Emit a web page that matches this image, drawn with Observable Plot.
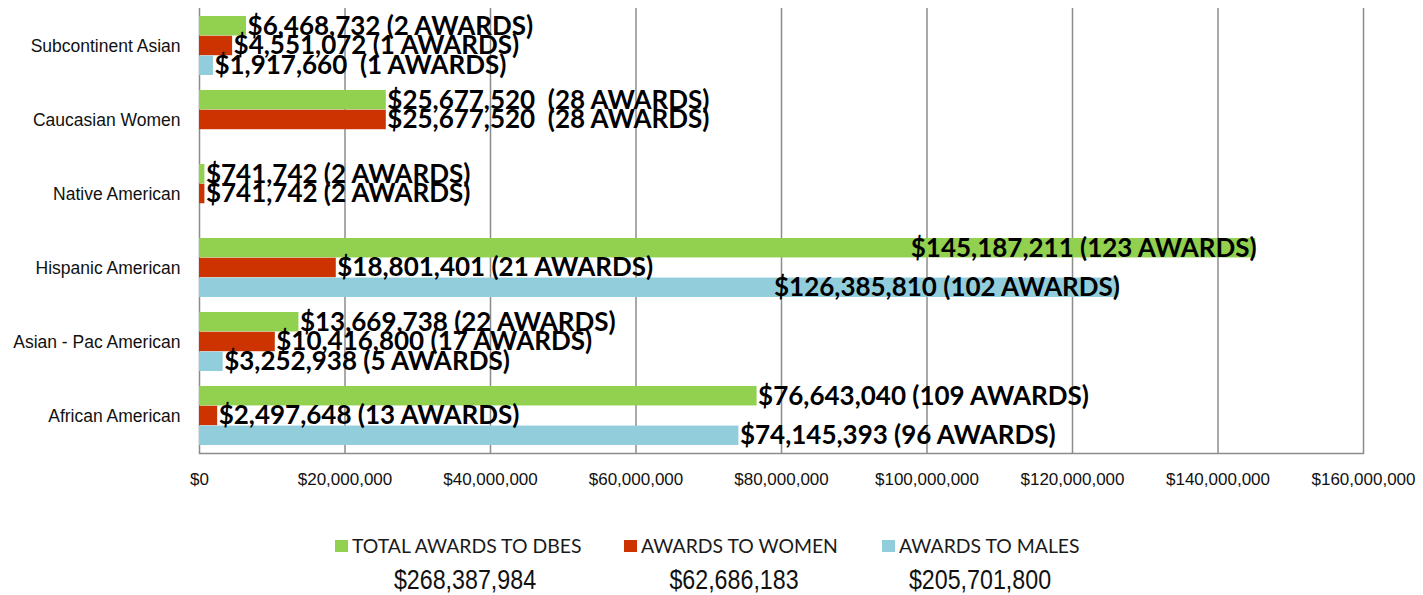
<!DOCTYPE html>
<html>
<head>
<meta charset="utf-8">
<script src="https://cdn.jsdelivr.net/npm/d3@7"></script>
<script src="https://cdn.jsdelivr.net/npm/@observablehq/plot@0.6"></script>
<style>
  body { margin: 0; background: #fff; }
  #wrap { position: relative; width: 1423px; height: 595px; overflow: hidden; }
  #legend { position: absolute; left: 0; top: 500px; width: 1423px; height: 95px; }
  .sw { position: absolute; width: 13px; height: 12px; }
  .lt { position: absolute; font-family: Lato, sans-serif; font-size: 19.4px; color: #1a1a1a; white-space: nowrap; line-height: 1; }
  .tv { position: absolute; font-family: "Liberation Sans", Arial, sans-serif; font-size: 28px; color: #111; white-space: nowrap; line-height: 1; transform: translateX(-50%) scaleX(0.83); }
</style>
</head>
<body>
<div id="wrap"><div id="chart"></div><div id="legend"></div></div>
<script>
// ---- data ----
const categories = ["Subcontinent Asian", "Caucasian Women", "Native American", "Hispanic American", "Asian - Pac American", "African American"];
const seriesNames = ["TOTAL AWARDS TO DBES", "AWARDS TO WOMEN", "AWARDS TO MALES"];
const seriesTotals = ["$268,387,984", "$62,686,183", "$205,701,800"];
const totalValues = [6468732, 25677520, 741742, 145187211, 13669738, 76643040];
const womenValues = [4551072, 25677520, 741742, 18801401, 10416800, 2497648];
const maleValues  = [1917660, null, null, 126385810, 3252938, 74145393];
const totalLabels = ["$6,468,732 (2 AWARDS)", "$25,677,520  (28 AWARDS)", "$741,742 (2 AWARDS)", "$145,187,211 (123 AWARDS)", "$13,669,738 (22 AWARDS)", "$76,643,040 (109 AWARDS)"];
const womenLabels = ["$4,551,072 (1 AWARDS)", "$25,677,520  (28 AWARDS)", "$741,742 (2 AWARDS)", "$18,801,401 (21 AWARDS)", "$10,416,800 (17 AWARDS)", "$2,497,648 (13 AWARDS)"];
const maleLabels  = ["$1,917,660  (1 AWARDS)", null, null, "$126,385,810 (102 AWARDS)", "$3,252,938 (5 AWARDS)", "$74,145,393 (96 AWARDS)"];
const xTicks = [0, 20000000, 40000000, 60000000, 80000000, 100000000, 120000000, 140000000, 160000000];
const xTickLabels = ["$0", "$20,000,000", "$40,000,000", "$60,000,000", "$80,000,000", "$100,000,000", "$120,000,000", "$140,000,000", "$160,000,000"];

// ---- styles / layout ----
const colors = ["#92D050", "#CC3300", "#92CDDC"];
const gridColor = "#8c8c8c";
const W = 1423, H = 500, mT = 8, mB = 47, mL = 199, mR = 60;
const padIn = 0.2, padOut = 0.1;
const step = (H - mT - mB) / (categories.length - padIn + 2 * padOut);
const third = step * (1 - padIn) / 3;

const valueSets = [totalValues, womenValues, maleValues];
const labelSets = [totalLabels, womenLabels, maleLabels];
const seriesRows = valueSets.map((vals, j) =>
  categories.map((c, i) => ({category: c, series: seriesNames[j], value: vals[i], label: labelSets[j][i]}))
            .filter(d => d.value != null));

const labelStyle = {fontFamily: "Lato, sans-serif", fontWeight: "bold", fontSize: 26, fill: "#000"};

const marks = [
  Plot.ruleX(xTicks, {x: d => d, stroke: gridColor, strokeWidth: 1.5}),
  Plot.frame({anchor: "bottom", stroke: gridColor, strokeWidth: 1.5})
];
seriesRows.forEach((rows, j) => {
  marks.push(Plot.barX(rows, {x: "value", y: "category", fill: "series", insetTop: j * third, insetBottom: (2 - j) * third}));
});
seriesRows.forEach((rows, j) => {
  const dy = (j - 1) * third;
  marks.push(Plot.text(rows.filter(d => d.value < 100000000), {x: "value", y: "category", text: "label", textAnchor: "start", dx: 1, dy, ...labelStyle}));
  marks.push(Plot.text(rows.filter(d => d.value >= 100000000), {x: "value", y: "category", text: "label", textAnchor: "end", dx: 1, dy, ...labelStyle}));
});
marks.push(Plot.axisY({tickSize: 0, tickPadding: 19, fontSize: 17.5, label: null}));
marks.push(Plot.axisX({ticks: xTicks, tickFormat: d => xTickLabels[xTicks.indexOf(d)], tickSize: 0, tickPadding: 19, fontSize: 17, label: null}));

const chart = Plot.plot({
  width: W,
  height: H,
  marginLeft: mL,
  marginRight: mR,
  marginTop: mT,
  marginBottom: mB,
  style: {fontFamily: "'Liberation Sans', Arial, sans-serif", background: "#fff", color: "#111"},
  x: {domain: [0, 160000000]},
  y: {domain: categories, paddingInner: padIn, paddingOuter: padOut},
  color: {domain: seriesNames, range: colors},
  marks
});
document.getElementById("chart").appendChild(chart);

// ---- legend (below the svg) ----
const legend = document.getElementById("legend");
const swatchLeft = [335, 624, 882];
const totalCenter = [465, 734, 980];
seriesNames.forEach((s, j) => {
  const sw = document.createElement("div");
  sw.className = "sw";
  sw.style.left = swatchLeft[j] + "px";
  sw.style.top = "40px";
  sw.style.background = colors[j];
  legend.appendChild(sw);
  const t = document.createElement("div");
  t.className = "lt";
  t.style.left = (swatchLeft[j] + 17) + "px";
  t.style.top = "36px";
  t.textContent = s;
  legend.appendChild(t);
  const v = document.createElement("div");
  v.className = "tv";
  v.style.left = totalCenter[j] + "px";
  v.style.top = "66px";
  v.textContent = seriesTotals[j];
  legend.appendChild(v);
});
</script>
</body>
</html>
